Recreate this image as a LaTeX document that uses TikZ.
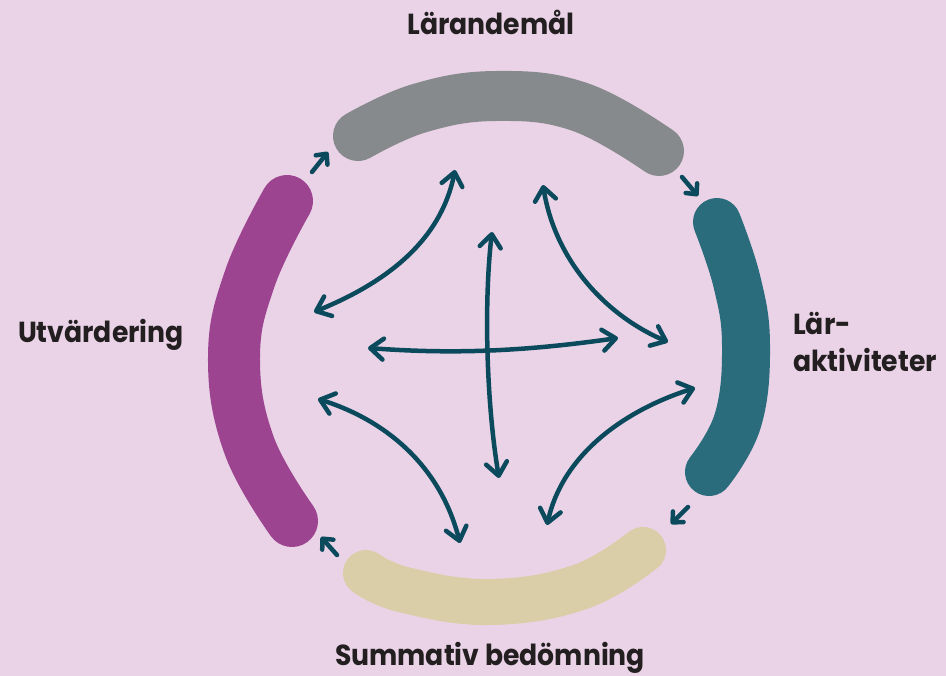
\documentclass[tikz,border=0pt]{standalone}
\usepackage{fontspec}
\setmainfont[FakeStretch=0.92]{Poppins}
\usetikzlibrary{arrows.meta}
\definecolor{bgpink}{HTML}{EAD3E7}
\definecolor{goalgray}{HTML}{878A8C}
\definecolor{actteal}{HTML}{2A6B7C}
\definecolor{evalpurple}{HTML}{9C4490}
\definecolor{sumbeige}{HTML}{D9CEA8}
\definecolor{arrowc}{HTML}{0B4A5C}
\definecolor{labelc}{HTML}{231F20}
\tikzset{
  blob/.style={line width=50pt, line cap=round, line join=round},
  label/.style={text=labelc, font=\fontsize{29}{37}\selectfont\bfseries, inner sep=0pt},
  bigarrow/.style={draw=arrowc, line width=4.5pt, line cap=round,
    {Straight Barb[round,length=13pt,width=21pt]}-{Straight Barb[round,length=13pt,width=21pt]}},
  smallarrow/.style={draw=arrowc, line width=4.5pt, line cap=round,
    -{Straight Barb[round,length=8pt,width=15pt]}}
}
\begin{document}
\begin{tikzpicture}[x=1pt,y=-1pt]
\fill[bgpink] (0,0) rectangle (946,676);
\useasboundingbox (0,0) rectangle (946,676);

% the four phases as thick brush strokes
\draw[blob, goalgray] plot[smooth, tension=0.7] coordinates {(358,136) (420,108) (497,96) (580,107) (659,151)};
\draw[blob, actteal, line width=48pt] plot[smooth, tension=0.7] coordinates {(717,222) (737,282) (746,345) (738,420) (709,472)};
\draw[blob, evalpurple, line width=52pt] plot[smooth, tension=0.7] coordinates {(287,201) (250,278) (234,357) (249,445) (292,521)};
\draw[blob, sumbeige, line width=46pt] plot[smooth, tension=0.7] coordinates {(366,573) (405,590) (490,602) (580,587) (643,550)};

% labels
\node[label, anchor=base] (goal) at (491,35) {Lärandemål};
\node[label, anchor=base west, align=left] (act) at (793,372) {Lär-\\aktiviteter};
\node[label, anchor=base] (eval) at (101,343) {Utvärdering};
\node[label, anchor=base] (sum) at (490,665) {Summativ bedömning};

% end points of the connectors
\coordinate (pg0) at (312,172); \coordinate (pg1) at (328,152);
\coordinate (gt0) at (682,177); \coordinate (gt1) at (698,196);
\coordinate (tb0) at (688,507); \coordinate (tb1) at (671,524);
\coordinate (bp0) at (337,555); \coordinate (bp1) at (321,537);

\coordinate (vtop) at (492,232); \coordinate (vbot) at (499,478);
\coordinate (hleft) at (368,348); \coordinate (hright) at (618,338);
\coordinate (ul1) at (455,170); \coordinate (ul2) at (314,312);
\coordinate (ur1) at (543,185); \coordinate (ur2) at (668,342);
\coordinate (ll1) at (318,399); \coordinate (ll2) at (460,543);
\coordinate (lr1) at (695,388); \coordinate (lr2) at (547,525);

% cycle arrows between the phases
\draw[smallarrow] (pg0) -- (pg1);
\draw[smallarrow] (gt0) -- (gt1);
\draw[smallarrow] (tb0) -- (tb1);
\draw[smallarrow] (bp0) -- (bp1);

% two-way arrows in the middle
\draw[bigarrow] (vtop) .. controls (484,300) and (486,400) .. (vbot);
\draw[bigarrow] (hleft) .. controls (450,354) and (520,352) .. (hright);
\draw[bigarrow] (ul1) .. controls (440,245) and (380,285) .. (ul2);
\draw[bigarrow] (ur1) .. controls (555,260) and (605,315) .. (ur2);
\draw[bigarrow] (ll1) .. controls (385,420) and (440,465) .. (ll2);
\draw[bigarrow] (lr1) .. controls (640,405) and (565,445) .. (lr2);
\end{tikzpicture}
\end{document}
